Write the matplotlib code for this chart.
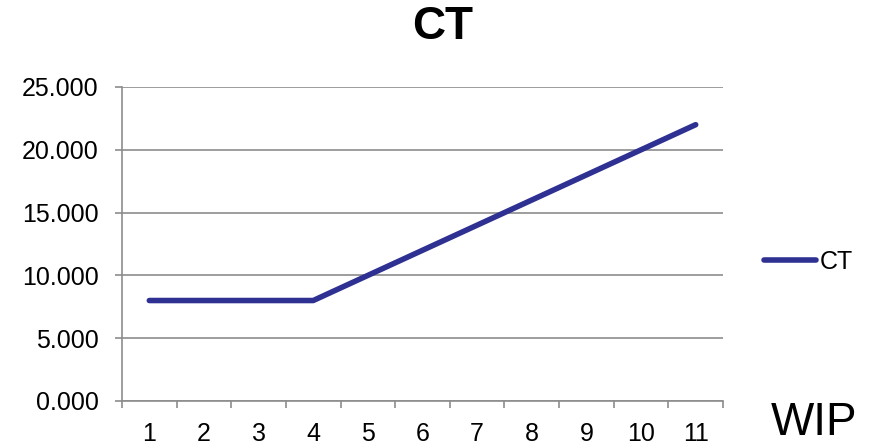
import matplotlib.pyplot as plt
from matplotlib.ticker import FixedLocator, FuncFormatter

plt.rcParams['font.family'] = ['Liberation Sans', 'DejaVu Sans']

wip = [1, 2, 3, 4, 5, 6, 7, 8, 9, 10, 11]
ct = [8, 8, 8, 8, 10, 12, 14, 16, 18, 20, 22]
y_ticks = [0, 5, 10, 15, 20, 25]

fig = plt.figure(figsize=(8.71, 4.46), dpi=100)
ax = fig.add_axes([122 / 871, 1 - 401 / 446, (723 - 122) / 871, (401 - 87) / 446])

ax.plot(wip, ct, color='#2E3192', linewidth=4, solid_capstyle='round', label='CT')

ax.set_xlim(0.5, 11.5)
ax.set_ylim(0, 25)
ax.set_yticks(y_ticks)
ax.yaxis.set_major_formatter(FuncFormatter(lambda v, p: f'{v:.3f}'))
ax.set_xticks(wip)
ax.xaxis.set_minor_locator(FixedLocator([w - 0.5 for w in wip] + [wip[-1] + 0.5]))

ax.grid(axis='y', color='#8c8c8c', linewidth=1.2)
ax.set_axisbelow(True)
for s in ['top', 'right']:
    ax.spines[s].set_visible(False)
for s in ['left', 'bottom']:
    ax.spines[s].set_color('#8c8c8c')
    ax.spines[s].set_linewidth(1.2)

ax.tick_params(axis='x', which='major', length=0, pad=15, labelsize=18)
ax.tick_params(axis='x', which='minor', length=5, width=1.2, color='#8c8c8c', direction='out')
ax.tick_params(axis='y', length=5, width=1.2, color='#8c8c8c', pad=12, labelsize=18)

fig.text(443 / 871, 1 - 27 / 446, 'CT', fontsize=33, fontweight='bold', ha='center', va='center')
# axis title sits in the bottom-right corner, as in the original
fig.text(771 / 871, 1 - 445 / 446, 'WIP', fontsize=33, ha='left', va='bottom')

ax.legend(loc='center left', bbox_to_anchor=(741 / 871, 1 - 262 / 446), bbox_transform=fig.transFigure,
          frameon=False, fontsize=18, handlelength=2.1, handletextpad=0.15)

fig.savefig('out.png', dpi=100)
